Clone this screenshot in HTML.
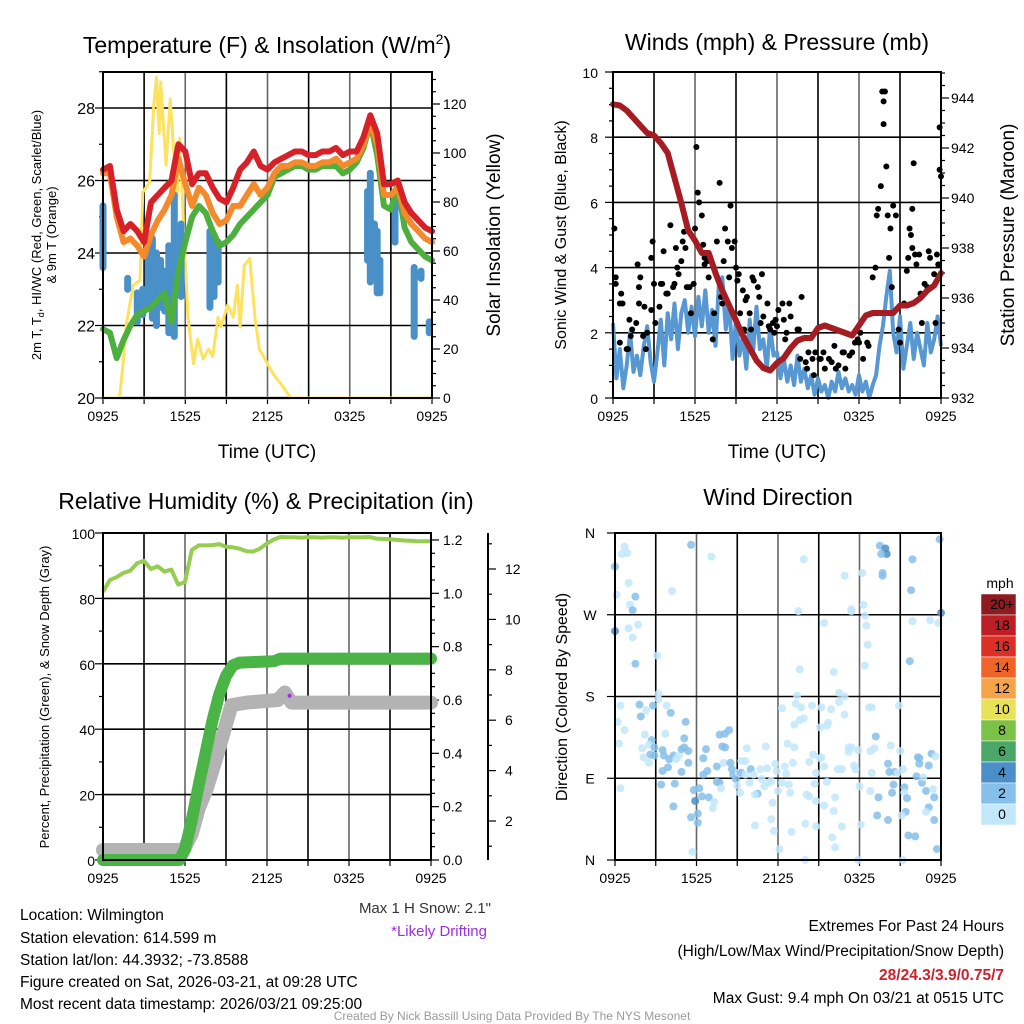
<!DOCTYPE html>
<html><head><meta charset="utf-8"><style>
html,body{margin:0;padding:0;background:#fff;}
svg{display:block;font-family:"Liberation Sans",sans-serif;}
</style></head><body>
<svg id="s" width="1024" height="1024" viewBox="0 0 1024 1024" xmlns="http://www.w3.org/2000/svg">
<g id="g"></g>
<g font-family="Liberation Sans, sans-serif">
<text x="267" y="53" font-size="23" text-anchor="middle">Temperature (F) &amp; Insolation (W/m<tspan font-size="14" dy="-9">2</tspan><tspan dy="9">)</tspan></text>
<text x="777" y="50" font-size="23" text-anchor="middle">Winds (mph) &amp; Pressure (mb)</text>
<text x="266" y="509" font-size="23" text-anchor="middle">Relative Humidity (%) &amp; Precipitation (in)</text>
<text x="778" y="505" font-size="23" text-anchor="middle">Wind Direction</text>
<text x="267" y="458" font-size="19" text-anchor="middle">Time (UTC)</text>
<text x="777" y="458" font-size="19" text-anchor="middle">Time (UTC)</text>
<text transform="translate(41,235) rotate(-90)" font-size="13" text-anchor="middle">2m T, T<tspan font-size="9" dy="3">d</tspan><tspan dy="-3">, HI/WC (Red, Green, Scarlet/Blue)</tspan></text>
<text transform="translate(56,235) rotate(-90)" font-size="13" text-anchor="middle">&amp; 9m T (Orange)</text>
<text transform="translate(500,235) rotate(-90)" font-size="19" text-anchor="middle">Solar Insolation (Yellow)</text>
<text transform="translate(566,235) rotate(-90)" font-size="16" text-anchor="middle">Sonic Wind &amp; Gust (Blue, Black)</text>
<text transform="translate(1014,235) rotate(-90)" font-size="19" text-anchor="middle">Station Pressure (Maroon)</text>
<text transform="translate(49,697) rotate(-90)" font-size="13" text-anchor="middle">Percent, Precipitation (Green), &amp; Snow Depth (Gray)</text>
<text transform="translate(567,697) rotate(-90)" font-size="16" text-anchor="middle">Direction (Colored By Speed)</text>
<text x="491" y="913" font-size="15" text-anchor="end" fill="#333">Max 1 H Snow: 2.1"</text>
<text x="487" y="936" font-size="15" text-anchor="end" fill="#9b30e0">*Likely Drifting</text>
<g font-size="15.5">
<text x="20" y="920">Location: Wilmington</text>
<text x="20" y="943">Station elevation: 614.599 m</text>
<text x="20" y="965">Station lat/lon: 44.3932; -73.8588</text>
<text x="20" y="987">Figure created on Sat, 2026-03-21, at 09:28 UTC</text>
<text x="20" y="1009">Most recent data timestamp: 2026/03/21 09:25:00</text>
</g>
<g font-size="15.5" text-anchor="end">
<text x="1004" y="931">Extremes For Past 24 Hours</text>
<text x="1004" y="956">(High/Low/Max Wind/Precipitation/Snow Depth)</text>
<text x="1004" y="980" fill="#d0202b" font-weight="bold">28/24.3/3.9/0.75/7</text>
<text x="1004" y="1003">Max Gust: 9.4 mph On 03/21 at 0515 UTC</text>
</g>
<text x="512" y="1020" font-size="12" text-anchor="middle" fill="#999">Created By Nick Bassill Using Data Provided By The NYS Mesonet</text>
</g>
</svg>
<script>
// ---------- DATA ----------
const halfHours = Array.from({length:49},(_,i)=>i*0.5);
const tempRed = [26.3,26.4,25.2,24.6,24.8,24.6,24.3,25.4,25.6,25.8,26.0,27.0,26.8,25.9,26.2,26.2,25.8,25.5,25.4,25.8,26.3,26.5,26.8,26.4,26.3,26.5,26.6,26.7,26.8,26.8,26.7,26.7,26.8,26.8,26.9,26.7,26.8,26.8,27.2,27.8,27.3,25.9,25.9,26.0,25.4,25.1,24.9,24.7,24.6];
const tempOrange = [26.2,26.2,25.0,24.3,24.4,24.2,23.9,24.5,24.9,25.2,25.6,26.6,25.9,25.3,25.8,25.6,25.1,24.8,24.9,25.3,25.3,25.6,25.9,25.6,25.8,26.2,26.4,26.4,26.5,26.5,26.4,26.4,26.5,26.5,26.6,26.4,26.5,26.6,27.0,27.6,27.0,25.6,25.6,25.8,25.1,24.8,24.6,24.4,24.3];
const tempGreen = [21.9,21.8,21.1,21.6,22.0,22.3,22.4,22.5,22.7,22.9,22.1,23.5,24.3,25.0,25.3,25.1,24.6,24.2,24.3,24.5,24.8,25.0,25.2,25.4,25.6,26.1,26.2,26.3,26.4,26.4,26.3,26.3,26.4,26.4,26.4,26.2,26.3,26.5,26.9,27.6,26.7,25.3,25.2,25.9,24.7,24.3,24.1,23.9,23.8];
const dewTimes = [0,1.8,2.5,2.9,3.3,3.6,3.9,4.2,4.5,4.8,5.2,5.7,7.8,8.1,8.4,19.3,19.5,19.8,20.0,20.2,21.3,22.7,23.2,23.8];
const dewLow  = [23.6,23.0,22.1,22.3,22.5,22.2,22.0,22.5,22.4,21.8,21.7,22.8,22.5,22.8,23.2,23.8,23.2,23.4,22.9,22.9,24.3,21.7,23.3,21.8];
const dewHigh = [25.3,23.3,22.9,23.0,24.2,24.4,24.0,23.8,23.5,24.2,25.6,24.8,24.6,24.5,24.3,25.7,26.2,24.8,24.6,23.8,25.5,23.6,23.5,22.1];
const solarTimes = [0,1.2,1.5,1.7,2.2,2.7,2.9,3.4,3.7,3.9,4.1,4.2,4.6,4.9,5.4,5.6,5.9,6.2,6.6,6.9,7.3,7.7,8.0,8.4,8.6,9.1,9.5,9.8,10.0,10.3,10.7,11.1,11.4,12.4,13.2,13.7,24];
const solarVals  = [0,0,16,30,46,48,84,88,119,131,108,129,95,122,81,106,67,33,14,24,16,20,17,33,29,38,33,46,29,54,57,32,20,10,4,0,0];
const presTimes = halfHours;
const pressure = [943.75,943.7,943.5,943.2,942.9,942.6,942.5,942.2,941.8,940.8,939.8,938.7,938.3,937.8,937.8,937.0,936.3,935.7,935.1,934.5,934.0,933.5,933.2,933.1,933.4,933.6,934.0,934.3,934.4,934.4,934.8,934.9,934.8,934.7,934.6,934.5,934.9,935.3,935.4,935.4,935.4,935.4,935.7,935.7,935.8,936.0,936.3,936.5,937.0];
const sonicTimes = Array.from({length:97},(_,i)=>i*0.25);
const sonicWind = [2.3,0.6,1.5,0.3,1.0,2.0,0.8,1.3,0.7,1.6,2.2,1.1,0.5,1.4,2.4,1.0,2.6,1.8,2.9,1.5,2.6,3.0,2.0,2.8,1.9,3.1,2.2,3.3,2.0,2.7,1.6,3.5,3.7,2.1,2.9,1.2,2.4,1.3,1.9,0.9,2.4,1.4,2.8,1.5,1.8,0.9,2.2,1.3,1.4,0.6,1.2,0.5,1.0,0.4,1.3,0.5,0.9,0.3,0.7,0.1,0.6,0.2,0.4,0.0,0.5,0.2,0.8,0.3,0.6,0.2,0.4,0.1,0.7,0.2,0.5,0.0,0.4,0.7,1.6,2.2,3.1,3.9,2.0,1.4,2.5,0.9,1.6,2.3,1.2,2.0,1.5,1.0,2.3,1.4,1.8,2.5,1.6];
const gustTimes = [0.1,0.2,0.2,0.6,0.5,0.7,0.5,1,1.1,1.2,1.3,1.4,1.7,1.8,1.9,1.9,2,2.2,2.3,2.4,2.5,2.8,2.8,2.9,3,3.1,3.4,3.5,3.6,3.7,3.9,4,4.2,4.4,4.5,4.6,4.7,4.8,5,5.1,5.2,5.3,5.4,5.6,5.7,5.9,6,6.1,6.2,6.3,6.5,6.6,6.7,6.7,6.9,7,7.3,7.4,7.6,7.8,7.9,8,8.1,8.2,8.4,8.5,8.6,8.7,8.9,9,9.1,9.2,9.3,9.5,9.6,9.7,9.8,10,10.1,10.2,10.3,10.6,10.7,10.8,10.9,11,11.3,11.4,11.5,11.7,11.8,11.9,12,12.1,12.4,12.5,12.6,12.7,12.9,13,13.5,13.6,13.7,13.8,14.1,14.2,14.3,14.6,14.7,14.8,15.1,15.2,15.4,15.5,15.8,16,16.2,16.3,16.5,16.8,16.9,17,17.3,17.5,17.7,17.9,18,18.1,18.3,18.6,18.7,19,19.2,19.3,19.4,19.6,19.7,19.8,19.9,19.8,20,20.1,20.2,20.3,20.4,20.5,20.7,20.9,21,21.3,21.5,21.6,21.7,21.8,21.9,21.9,22,22.1,22.2,22.4,22.5,22.6,22.8,23,23.1,23.2,23.5,23.6,23.7,23.8,23.9,23.9,24];
const gustVals  = [5.2,3.7,3.5,3.2,2.9,2.9,1.7,1.5,1.5,2.4,1.9,2.1,2.3,4.1,2.9,3.4,3.7,1.9,2.8,1.5,2.0,2.7,4.3,4.8,3.5,2.3,2.8,3.5,3.5,4.5,3.2,3.2,5.3,3.4,3.5,4.6,4.0,3.8,4.2,4.8,5.1,4.6,3.4,3.4,2.6,3.5,5.2,7.7,6.3,6.0,5.6,4.7,4.1,4.3,4.2,3.7,1.8,2.6,4.8,6.6,3.1,2.9,4.2,5.2,4.8,3.7,5.9,4.6,4.8,4.0,3.6,3.8,2.6,3.3,2.1,3.0,3.1,2.6,2.1,3.7,3.6,3.4,3.1,2.3,3.8,2.5,2.9,2.2,2.1,2.3,2.0,2.4,2.2,2.7,2.9,2.4,1.8,2.0,2.9,2.5,2.1,2.1,1.2,3.1,1.1,0.9,1.4,1.2,0.7,1.4,1.2,1.2,1.4,0.9,1.2,1.1,1.6,0.9,1.0,1.4,1.4,0.9,1.3,1.4,1.7,1.8,1.7,2.0,1.2,1.7,1.6,3.7,4.0,5.6,5.8,6.5,9.4,9.1,9.4,8.4,7.1,5.6,4.3,5.2,3.4,5.9,5.6,2.1,1.7,2.9,3.9,4.3,5.2,5.0,5.8,4.6,7.2,4.4,4.1,4.4,3.2,2.3,3.5,3.4,4.5,4.3,3.8,2.3,4.4,4.1,8.3,7.0,6.8];
const rhVals = [82,85.6,86.5,87.8,88.5,90.8,91.5,89,89.8,88.2,88.8,84.2,85,94.8,96.2,96.2,96.3,96.6,95.8,95.6,95.2,94.4,94.3,95.3,96.8,98,98.8,98.7,98.7,98.6,98.7,98.7,98.6,98.7,98.7,98.6,98.7,98.7,98.7,98.8,98.3,98.2,98.1,97.9,97.7,97.6,97.5,97.5,97.5];
const precipTimes = [0,5.6,6,6.5,7,7.5,8,8.5,9,9.5,10,12.5,13,24];
const precipVals  = [0,0,0.04,0.15,0.28,0.40,0.52,0.62,0.69,0.73,0.74,0.745,0.755,0.755];
const snowTimes = [0,5.9,6.5,7,7.6,8.4,9.4,10.5,12.8,13.3,13.8,24];
const snowVals  = [0.85,0.85,1.5,2.5,3.3,4.7,6.6,6.7,6.8,7.1,6.7,6.7];
const driftTimes = [13.65];
const driftVals = [6.97];
const dirTimes = [0.7,0.5,0.9,0,1,0.1,1.5,1.1,1.3,1.7,1,0,1.3,1.5,3.1,4.2,5.6,7.1,0.4,0.2,0.7,0.3,0.4,1.8,1.9,2.3,2.2,2.7,2.8,3.2,3.2,3.8,4.1,3.7,5.2,5.1,2,2.5,2.9,2.6,2.1,2.5,2.9,3.5,3.6,4,4.3,4.5,4.7,4.9,5.1,5.4,5.4,4.9,3.5,3.9,3.4,4.4,4.3,5.8,5.9,6.2,6.4,5.6,6.1,6.1,5.7,6.9,7.3,7.2,6.5,6.7,6.5,6.8,7.5,7.5,7.7,7.8,7.7,8.1,8.4,7.9,8.1,8,8.5,8.6,8.7,8.9,9.1,9.3,9.6,9.3,9.6,9.2,9,9.7,10,9.9,10.2,10.5,10.3,10.7,11.2,11.1,10.8,11,11.3,11.5,11.6,10.3,11.5,11.7,12.1,11.9,11.8,12,12.3,12.5,12.6,13.1,12.7,13.2,12.3,13.4,13.3,13.7,14.5,13.2,13.6,13.9,13.6,13.5,13.9,13,14,14,12.8,12.9,14.3,14.6,14.7,14.1,14.3,14.8,14.8,15.1,15.2,15.4,15.4,15.6,16.1,16,16.2,16.2,16.4,16.7,16.7,14.8,15.1,15.2,15.6,15.7,15.9,15.4,16.1,16.5,16.9,16.9,16.5,16.9,17.4,17.4,17.9,18.1,18,17.6,17.7,17.2,17.2,17.4,17.9,18.2,18.3,18.4,18.5,18.6,18.4,18.7,18.9,18.9,18.8,18.8,19.1,19.2,19.4,19.3,20.1,19.5,19.9,20,19.6,19.7,19.7,20.3,20.1,20.2,20.6,20.5,20.4,20.9,21,20.8,21.2,21.3,21.3,21.5,21.4,21.1,21.2,21.6,22.1,21.7,21.8,21.9,21.9,22.2,22.6,22.9,22.7,23.4,23.5,23.1,22.9,23.5,23.7,22.4,22.3,22.4,23.1,23.3,23.6,23.2,23.8,24,23.9];
const dirVals = [345,337,338,323,305,292,290,281,275,259,255,252,245,216,225,296,347,334,170,152,143,128,79,171,158,165,138,132,170,183,177,170,162,139,152,134,123,127,124,116,113,107,115,121,115,111,115,111,115,122,124,120,107,97,98,102,83,84,59,77,65,79,70,47,51,41,9,69,64,57,112,122,94,98,103,86,85,79,138,139,143,125,124,107,107,100,94,89,96,109,109,96,94,74,82,123,100,85,94,73,72,100,101,125,89,81,85,87,63,38,45,32,12,98,106,76,85,103,95,107,128,124,167,181,172,168,170,149,154,156,210,274,331,31,40,0,83,74,108,116,84,72,70,65,96,112,113,103,60,86,54,25,14,69,100,100,37,37,146,168,148,151,166,261,207,184,180,160,174,313,276,274,0,39,81,104,100,124,119,124,121,316,281,269,258,237,214,168,168,96,76,120,123,136,69,49,44,346,343,337,337,316,313,126,106,97,97,83,74,170,120,96,100,80,74,68,53,49,0,27,26,219,297,331,263,92,85,76,91,78,69,58,53,44,12,106,113,112,104,117,114,264,261,272,353];
const dirSpeeds = [
1,1,1,3,1,1,3,1,3,1,1,5,1,3,1,1,3,1,
1,1,1,1,1,
3,3,1,1,3,3,1,1,1,3,1,3,3,
1,1,3,3,1,1,3,3,3,3,3,1,1,3,3,3,3,3,3,3,3,3,3,3,5,3,3,3,3,3,1,3,1,1,
3,3,3,3,3,3,3,1,3,3,3,3,3,1,3,3,3,3,1,1,1,3,1,1,1,1,3,1,1,3,1,
1,1,1,1,1,1,1,1,1,1, 1,1,1,1,1,1,1,1,1,1, 1,1,1,1,1,1,1,1,1,1, 1,1,1,1,1,1,1,1,1,1, 1,1,1,1,1,1,1,1,1,1,
1,1,1,1,1,1,1,1,1,1, 1,1,1,1,1,1,1,1,1,1, 1,1,1,1,1,1,1,1,1,1, 1,1,1,1,1,1,1,1,1,1, 1,1,
3,3,3,3,3,5,5,3,3,3, 1,3,3,3,3,3, 1,1,1,1,3,1,3,3,1,1, 3,3,3,3,3,1, 3,3,3,1,1,3,3,1,3,3, 3,3,3,3,3,1,1,1,5,3];
const cbLabels = ["20+","18","16","14","12","10","8","6","4","2","0"];
const cbColors = ["#8e1b1f","#bb1e25","#dc2f26","#ef6529","#f7a448","#e8e259","#7cc246","#4ba66a","#4a8fc8","#86c0ea","#c2e7fb"];

// ---------- HELPERS ----------
const NS="http://www.w3.org/2000/svg";
const root=document.getElementById('g');
function mk(tag,attrs,parent){const e=document.createElementNS(NS,tag);for(const k in attrs)e.setAttribute(k,attrs[k]);(parent||root).appendChild(e);return e;}
function txt(x,y,s,size,anchor,extra){const e=mk('text',Object.assign({x:x,y:y,'font-size':size,'text-anchor':anchor||'middle',fill:'#000'},extra||{}));e.textContent=s;return e;}
function line(x1,y1,x2,y2,stroke,w){return mk('line',{x1:x1,y1:y1,x2:x2,y2:y2,stroke:stroke,'stroke-width':w});}
function pathFrom(xs,ys,fx,fy){let d='';for(let i=0;i<xs.length;i++){d+=(i?'L':'M')+fx(xs[i]).toFixed(1)+','+fy(ys[i]).toFixed(1);}return d;}
const xTicks=["0925","1525","2125","0325","0925"];

function frame(x0,x1,y0,y1,hGrid,name){
  for(let h=3;h<24;h+=3){const l=line(x0+(x1-x0)*h/24,y0,x0+(x1-x0)*h/24,y1,(h%6===0)?'#666':'#000',1.6);
    
    }
  hGrid.forEach(y=>{const l=line(x0,y,x1,y,'#000',1.6);
    
    });
  for(let h=0;h<=24;h+=3){const l=line(x0+(x1-x0)*h/24,y1,x0+(x1-x0)*h/24,y1+6,'#000',1.2);
    
    }
  xTicks.forEach((s,i)=>{const t=txt(x0+(x1-x0)*i/4,y1+23,s,14);
    
    });
}
function border(x0,x1,y0,y1,name){const r=mk('rect',{x:x0,y:y0,width:x1-x0,height:y1-y0,fill:'none',stroke:'#000','stroke-width':2});
  
  }

// ---------- PANEL 1 ----------
(function(){
  const x0=103,x1=432,y0=72,y1=398;
  const X=t=>x0+(x1-x0)*t/24, TY=v=>y1-(v-20)*36.25, SY=v=>y1-v*2.45;
  frame(x0,x1,y0,y1,[22,24,26,28].map(TY),'temp-panel');
  line(x0,y1,x1,y1,'#bbb',3);
  for(let v=20;v<=29;v++){const l=line(x0-(v%2?4:8),TY(v),x0,TY(v),'#000',1.2);
    
    }
  [20,22,24,26,28].forEach(v=>{const t=txt(95,TY(v)+6,String(v),16,'end');
    
    });
  for(let v=0;v<=130;v+=5){const l=line(x1,SY(v),x1+(v%20?4:8),SY(v),'#000',1.2);
    
    }
  for(let v=0;v<=120;v+=20){const t=txt(443,SY(v)+5,String(v),14,'start');
    
    }
  const sp=mk('path',{d:pathFrom(solarTimes,solarVals,X,SY),fill:'none',stroke:'#fde25e','stroke-width':3,'stroke-linejoin':'round'});
  
  
  for(let i=0;i<dewTimes.length;i++){const l=mk('line',{x1:X(dewTimes[i]),x2:X(dewTimes[i]),y1:TY(dewLow[i]),y2:TY(dewHigh[i]),stroke:'#4a90c8','stroke-width':7,'stroke-linecap':'round'});
    
    }
  [[tempGreen,'#4caf3e','heat-index-line'],[tempOrange,'#f58a2c','temp-9m-line'],[tempRed,'#d62128','temp-2m-line']].forEach(s=>{
    const p=mk('path',{d:pathFrom(halfHours,s[0],X,TY),fill:'none',stroke:s[1],'stroke-width':6,'stroke-linejoin':'round','stroke-linecap':'round'});
    
    });
  border(x0,x1,y0,y1,'temp-panel');
})();

// ---------- PANEL 2 ----------
(function(){
  const x0=613,x1=941,y0=72,y1=398;
  const X=t=>x0+(x1-x0)*t/24, WY=v=>y1-v*32.6, PY=p=>y1-(p-932)*25;
  frame(x0,x1,y0,y1,[2,4,6,8].map(WY),'wind-panel');
  for(let v=0;v<=10;v+=0.5){const l=line(x0-(v%2?4:8),WY(v),x0,WY(v),'#000',1.2);
    
    }
  for(let v=0;v<=10;v+=2){const t=txt(598,WY(v)+6,String(v),14,'end');
    
    }
  for(let p=932;p<=945;p+=0.5){const l=line(x1,PY(p),x1+(p%2?4:8),PY(p),'#000',1.2);
    
    }
  for(let p=932;p<=944;p+=2){const t=txt(951,PY(p)+5,String(p),14,'start');
    
    }
  const sw=mk('path',{d:pathFrom(sonicTimes,sonicWind,X,WY),fill:'none',stroke:'#5797d2','stroke-width':4,'stroke-linejoin':'round'});
  
  
  for(let i=0;i<gustTimes.length;i++){const c=mk('circle',{cx:X(gustTimes[i]),cy:WY(gustVals[i]),r:3,fill:'#000'});
    
    }
  const pp=mk('path',{d:pathFrom(presTimes,pressure,X,PY),fill:'none',stroke:'#a51c22','stroke-width':6,'stroke-linejoin':'round','stroke-linecap':'round'});
  
  
  border(x0,x1,y0,y1,'wind-panel');
})();

// ---------- PANEL 3 ----------
(function(){
  const x0=103,x1=431,y0=533,y1=860;
  const X=t=>x0+(x1-x0)*t/24, RY=v=>y1-v*3.27, PY=v=>y1-v*266.7, SY=v=>871.4-v*25.2;
  frame(x0,x1,y0,y1,[20,40,60,80].map(RY),'rh-panel');
  for(let v=0;v<=100;v+=10){const l=line(x0-(v%20?4:8),RY(v),x0,RY(v),'#000',1.2);
    
    }
  for(let v=0;v<=100;v+=20){const t=txt(95,RY(v)+6,String(v),14,'end');
    
    }
  for(let v=0;v<=1.22;v+=0.05){const l=line(x1,PY(v),x1+(Math.round(v*100)%20?4:8),PY(v),'#000',1.2);
    
    }
  for(let v=0;v<=1.2001;v+=0.2){const t=txt(443,PY(v)+5,v.toFixed(1),14,'start');
    
    }
  const sa=line(488,y0,488,y1,'#000',2);
  
  
  for(let v=1;v<=13;v++){const l=line(488,SY(v),488+(v%2?4:8),SY(v),'#000',1.2);
    
    }
  for(let v=2;v<=12;v+=2){const t=txt(505,SY(v)+5,String(v),14,'start');
    
    }
  const rp=mk('path',{d:pathFrom(halfHours,rhVals,X,RY),fill:'none',stroke:'#94cd50','stroke-width':4,'stroke-linejoin':'round'});
  
  
  const sp=mk('path',{d:pathFrom(snowTimes,snowVals,X,SY),fill:'none',stroke:'#b3b3b3','stroke-width':14,'stroke-linejoin':'round','stroke-linecap':'round'});
  
  
  const pr=mk('path',{d:pathFrom(precipTimes,precipVals,X,PY),fill:'none',stroke:'#4bb447','stroke-width':12,'stroke-linejoin':'round','stroke-linecap':'round'});
  
  
  for(let i=0;i<driftTimes.length;i++){const c=mk('circle',{cx:X(driftTimes[i]),cy:SY(driftVals[i]),r:2,fill:'#9b30e0'});
    
    }
  border(x0,x1,y0,y1,'rh-panel');
})();

// ---------- PANEL 4 ----------
(function(){
  const x0=615,x1=941,y0=533,y1=860;
  const X=t=>x0+(x1-x0)*t/24, DY=d=>y1-d*327/360;
  frame(x0,x1,y0,y1,[90,180,270].map(DY),'direction-panel');
  ["N","E","S","W","N"].forEach((s,i)=>{const l=line(x0-8,DY(i*90),x0,DY(i*90),'#000',1.2);
    
    
    const t=txt(590,DY(i*90)+5,s,14,'middle');
    
    });
  const spd2col=s=>cbColors[10-Math.min(10,Math.floor((s===undefined?1:s)/2))];
  const n=Math.min(dirTimes.length,dirVals.length);
  for(let i=0;i<n;i++){const c=mk('circle',{cx:X(dirTimes[i]),cy:DY(dirVals[i]),r:4,fill:spd2col(dirSpeeds[i]),'fill-opacity':0.85});
    
    }
  border(x0,x1,y0,y1,'direction-panel');
  const cbTitle=txt(1000,588,'mph',14);
  
  
  cbLabels.forEach((s,i)=>{const r=mk('rect',{x:981,y:594+i*21,width:35,height:21,fill:cbColors[i],stroke:'#fff','stroke-width':0.5});
    
    
    const t=txt(1002,609+i*21,s,14,'middle');
    
    });
})();
</script>
</body></html>
